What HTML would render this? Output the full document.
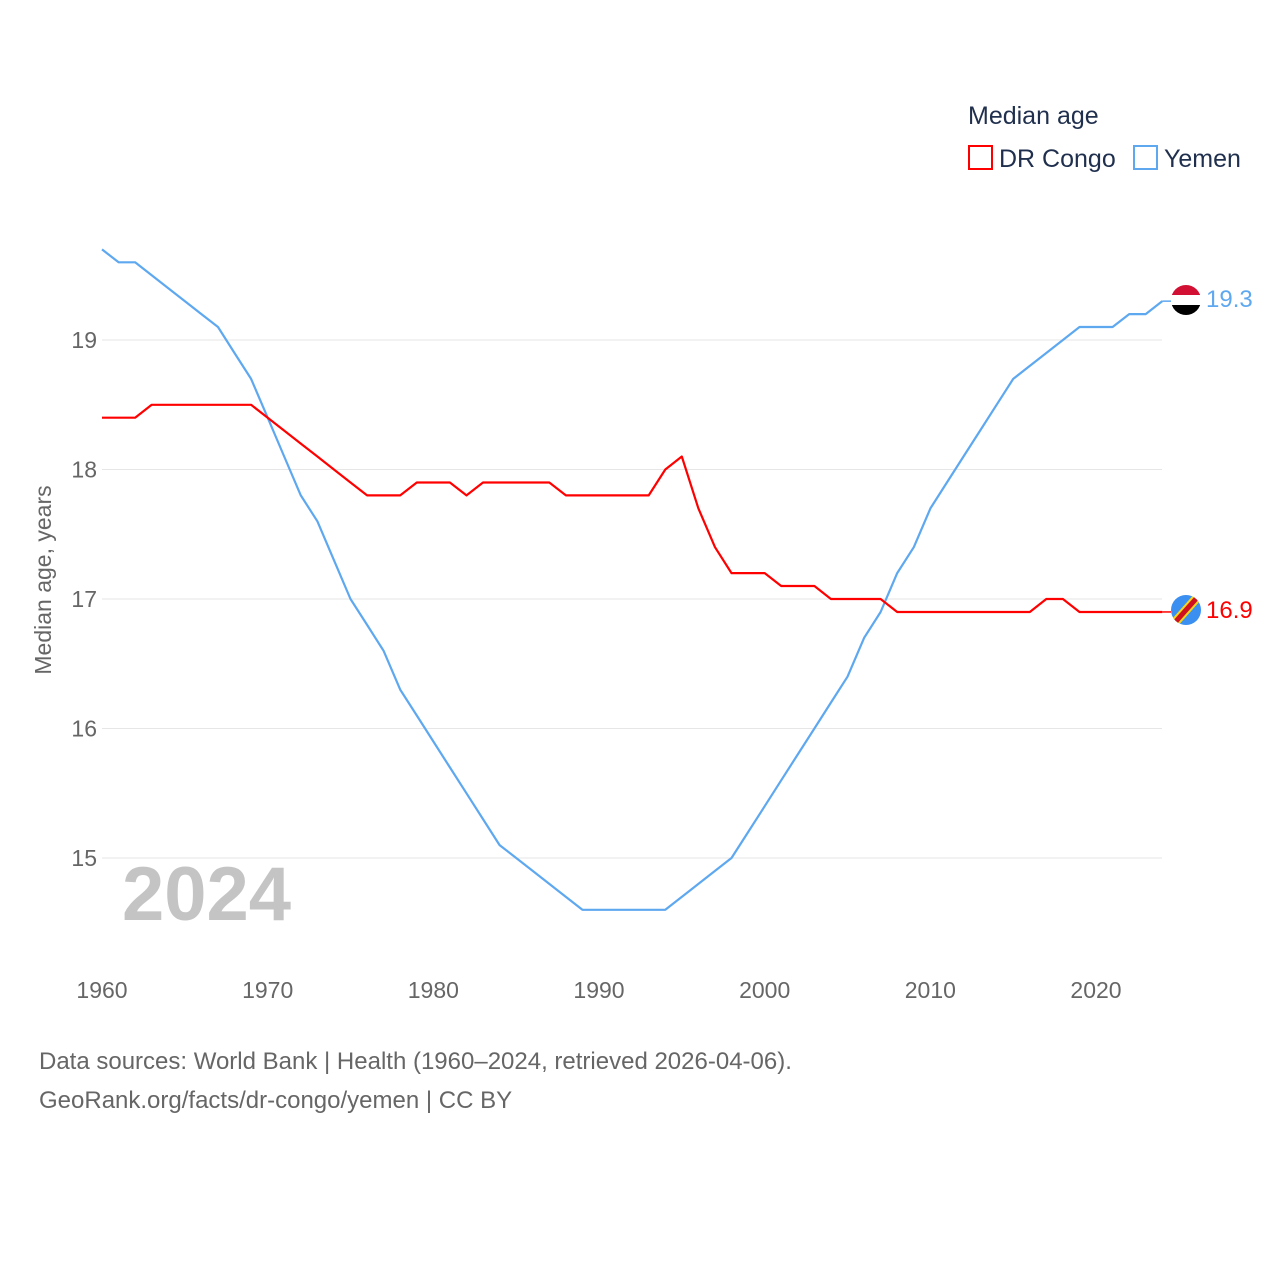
<!DOCTYPE html>
<html><head><meta charset="utf-8"><style>
body{margin:0;background:#fff;font-family:"Liberation Sans",sans-serif;}
svg text{font-family:"Liberation Sans",sans-serif;}
</style></head><body>
<svg id="chart" width="1280" height="1280" xmlns="http://www.w3.org/2000/svg">
<text x="968" y="124" font-size="25" fill="#1f2f4d">Median age</text>
<rect x="969" y="146" width="23" height="23" fill="none" stroke="#f00" stroke-width="2"/>
<text x="999" y="167" font-size="25" fill="#1f2f4d">DR Congo</text>
<rect x="1134" y="146" width="23" height="23" fill="none" stroke="#5ea8f0" stroke-width="2"/>
<text x="1164" y="167" font-size="25" fill="#1f2f4d">Yemen</text>
<g id="grid"></g><g id="xt"></g><g id="lines"></g>
<text transform="translate(51,580) rotate(-90)" text-anchor="middle" font-size="23" fill="#666">Median age, years</text>
<text x="122" y="920" font-size="76" font-weight="bold" fill="#c4c4c4">2024</text>
<text x="39" y="1069" font-size="24" fill="#666">Data sources: World Bank | Health (1960–2024, retrieved 2026-04-06).</text>
<text x="39" y="1108" font-size="24" fill="#666">GeoRank.org/facts/dr-congo/yemen | CC BY</text>
<defs><clipPath id="c1"><circle cx="1186" cy="300" r="15"/></clipPath><clipPath id="c2"><circle cx="1186" cy="610" r="15"/></clipPath></defs>
<g clip-path="url(#c1)"><rect x="1171" y="285" width="30" height="10" fill="#d21034"/><rect x="1171" y="295" width="30" height="10" fill="#fff"/><rect x="1171" y="305" width="30" height="10" fill="#000"/></g>
<g clip-path="url(#c2)"><rect x="1171" y="595" width="30" height="30" fill="#3a8ff0"/><line x1="1170" y1="628" x2="1202" y2="592" stroke="#f7d618" stroke-width="9"/><line x1="1170" y1="628" x2="1202" y2="592" stroke="#ce1021" stroke-width="5"/></g>
<text x="1206" y="307" font-size="24" fill="#5ea8f0">19.3</text>
<text x="1206" y="618" font-size="24" fill="#f00">16.9</text>
</svg>
<script>
const years=[];for(let y=1960;y<=2024;y++)years.push(y);
const drCongo=[18.4,18.4,18.4,18.5,18.5,18.5,18.5,18.5,18.5,18.5,18.4,18.3,18.2,18.1,18.0,17.9,17.8,17.8,17.8,17.9,17.9,17.9,17.8,17.9,17.9,17.9,17.9,17.9,17.8,17.8,17.8,17.8,17.8,17.8,18.0,18.1,17.7,17.4,17.2,17.2,17.2,17.1,17.1,17.1,17.0,17.0,17.0,17.0,16.9,16.9,16.9,16.9,16.9,16.9,16.9,16.9,16.9,17.0,17.0,16.9,16.9,16.9,16.9,16.9,16.9];
const yemen=[19.7,19.6,19.6,19.5,19.4,19.3,19.2,19.1,18.9,18.7,18.4,18.1,17.8,17.6,17.3,17.0,16.8,16.6,16.3,16.1,15.9,15.7,15.5,15.3,15.1,15.0,14.9,14.8,14.7,14.6,14.6,14.6,14.6,14.6,14.6,14.7,14.8,14.9,15.0,15.2,15.4,15.6,15.8,16.0,16.2,16.4,16.7,16.9,17.2,17.4,17.7,17.9,18.1,18.3,18.5,18.7,18.8,18.9,19.0,19.1,19.1,19.1,19.2,19.2,19.3];
const yTicks=[15,16,17,18,19];
const xTicks=[1960,1970,1980,1990,2000,2010,2020];
const NS="http://www.w3.org/2000/svg";
const X=y=>102+(y-1960)*16.567;
const Y=v=>340+(19-v)*129.5;
function mk(t,a,p){const e=document.createElementNS(NS,t);for(const k in a)e.setAttribute(k,a[k]);p.appendChild(e);return e;}
const grid=document.getElementById('grid');
yTicks.forEach(v=>{
 const l=mk('line',{x1:102,x2:1162,y1:Y(v),y2:Y(v),stroke:'#e6e6e6','stroke-width':1},grid);
 
 
 const t=mk('text',{x:97,y:Y(v)+8,'text-anchor':'end','font-size':23,fill:'#666'},grid);t.textContent=v;
 
 
});
const xt=document.getElementById('xt');
xTicks.forEach(v=>{
 const t=mk('text',{x:X(v),y:998,'text-anchor':'middle','font-size':23,fill:'#666'},xt);t.textContent=v;
 
 
});
const lines=document.getElementById('lines');
function draw(arr,col,name){
 const d=arr.map((v,i)=>(i?'L':'M')+X(years[i]).toFixed(1)+','+Y(v).toFixed(1)).join('');
 const p=mk('path',{d:d,fill:'none',stroke:col,'stroke-width':2.2,'stroke-linejoin':'round'},lines);
 
 
 const last=arr[arr.length-1];
 mk('line',{x1:X(2024),x2:1171,y1:Y(last),y2:Y(last),stroke:col,'stroke-width':1.5},lines);
}
draw(yemen,'#5ea8f0','yemen-line');
draw(drCongo,'#f00','drcongo-line');
</script>
</body></html>
